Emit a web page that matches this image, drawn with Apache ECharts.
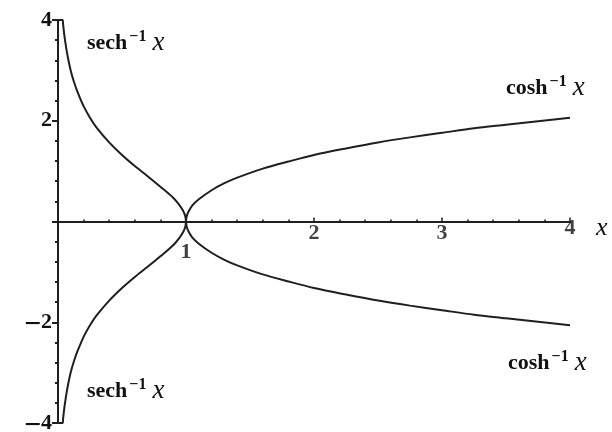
<!DOCTYPE html>
<html>
<head>
<meta charset="utf-8">
<script src="https://cdn.jsdelivr.net/npm/echarts@6/dist/echarts.min.js"></script>
<style>
  html, body { margin: 0; padding: 0; background: #fff; }
  #chart { width: 612px; height: 432px; }
</style>
</head>
<body>
<div id="chart"></div>
<script>
// Inverse hyperbolic functions: both branches of sech^-1 x on (0,1] and cosh^-1 x on [1,4]
const sechX    = [0, 0.036, 0.04, 0.05, 0.065, 0.08, 0.1, 0.125, 0.15, 0.2, 0.25, 0.3, 0.4, 0.5, 0.6, 0.7, 0.8, 0.9, 0.95, 0.98, 0.995, 1];
const sechUp   = [4.00, 4.00, 3.91, 3.69, 3.43, 3.22, 2.99, 2.77, 2.59, 2.29, 2.06, 1.87, 1.57, 1.32, 1.10, 0.90, 0.69, 0.47, 0.32, 0.20, 0.10, 0];
const sechDown = [-4.00, -4.00, -3.91, -3.69, -3.43, -3.22, -2.99, -2.77, -2.59, -2.29, -2.06, -1.87, -1.57, -1.32, -1.10, -0.90, -0.69, -0.47, -0.32, -0.20, -0.10, 0];

const coshX    = [1, 1.005, 1.02, 1.05, 1.1, 1.2, 1.3, 1.4, 1.6, 1.8, 2.0, 2.25, 2.5, 2.75, 3.0, 3.25, 3.5, 3.75, 4.0];
const coshUp   = [0, 0.10, 0.20, 0.32, 0.44, 0.62, 0.76, 0.87, 1.05, 1.19, 1.32, 1.45, 1.57, 1.67, 1.76, 1.85, 1.92, 1.99, 2.06];
const coshDown = [0, -0.10, -0.20, -0.32, -0.44, -0.62, -0.76, -0.87, -1.05, -1.19, -1.32, -1.45, -1.57, -1.67, -1.76, -1.85, -1.92, -1.99, -2.06];

const xTicks = [1, 2, 3, 4];
const yTicks = [-4, -2, 2, 4];

const serif = '"Liberation Serif", "DejaVu Serif", serif';
const ink = '#1f1f1f';
const textInk = '#111';

function pairs(xs, ys) { return xs.map((x, i) => [x, ys[i]]); }

function curve(name, xs, ys) {
  return {
    name: name,
    type: 'line',
    data: pairs(xs, ys),
    smooth: 0.3,
    showSymbol: false,
    lineStyle: { color: ink, width: 2 },
    silent: true,
    z: 3
  };
}

// x tick numbers sit on the zero line, so they are placed through the axes as labelled points
const xLabelSeries = {
  type: 'scatter',
  symbolSize: 0,
  silent: true,
  data: xTicks.map(v => ({
    value: [v, 0],
    label: { offset: v === 1 ? [0, 31] : (v === 4 ? [0, 7] : [0, 12]) }
  })),
  label: {
    show: true,
    position: 'inside',
    formatter: p => String(p.value[0]),
    fontFamily: serif,
    fontSize: 22,
    fontWeight: 'bold',
    color: textInk
  },
  z: 5
};

function fnLabel(base, x, y) {
  return {
    type: 'text',
    left: x,
    top: y,
    style: {
      text: '{b|' + base + '}{s|−1}{i|x}',
      rich: {
        b: { fontFamily: serif, fontSize: 22, fontWeight: 'bold', fill: textInk },
        s: { fontFamily: serif, fontSize: 16, fontWeight: 'bold', fill: textInk, verticalAlign: 'top', padding: [0, 6, 12, 2] },
        i: { fontFamily: serif, fontSize: 27, fontStyle: 'italic', fill: textInk }
      }
    }
  };
}

const chart = echarts.init(document.getElementById('chart'), null, { renderer: 'canvas' });

chart.setOption({
  animation: false,
  backgroundColor: '#fff',
  grid: { left: 58, right: 42, top: 20, bottom: 9, containLabel: false, outerBoundsMode: 'none' },
  xAxis: {
    type: 'value',
    min: 0,
    max: 4,
    interval: 1,
    axisLine: { onZero: true, lineStyle: { color: ink, width: 2 } },
    axisTick: { show: true, length: 4, inside: true, lineStyle: { color: ink, width: 1.5 } },
    minorTick: { show: true, splitNumber: 5, length: 2, lineStyle: { color: ink, width: 1.5 } },
    axisLabel: { show: false },
    splitLine: { show: false }
  },
  yAxis: {
    type: 'value',
    min: -4,
    max: 4,
    interval: 2,
    axisLine: { onZero: true, lineStyle: { color: ink, width: 2 } },
    axisTick: { show: true, length: 6, inside: false, lineStyle: { color: ink, width: 2 } },
    minorTick: { show: true, splitNumber: 5, length: 3, lineStyle: { color: ink, width: 2 } },
    axisLabel: {
      margin: 6,
      fontFamily: serif,
      fontSize: 22,
      fontWeight: 'bold',
      color: textInk,
      formatter: v => (yTicks.indexOf(v) >= 0 ? (v < 0 ? '{m|−}' + Math.abs(v) : String(v)) : ''),
      rich: {
        m: { fontFamily: serif, fontSize: 30, fontWeight: 'bold', color: textInk, padding: [6, 0, 0, 0] }
      }
    },
    splitLine: { show: false }
  },
  series: [
    curve('sech⁻¹x upper', sechX, sechUp),
    curve('sech⁻¹x lower', sechX, sechDown),
    curve('cosh⁻¹x upper', coshX, coshUp),
    curve('cosh⁻¹x lower', coshX, coshDown),
    xLabelSeries
  ],
  graphic: [
    fnLabel('sech', 87, 29),
    fnLabel('sech', 87, 377),
    fnLabel('cosh', 506, 74),
    fnLabel('cosh', 508, 349),
    {
      type: 'text',
      left: 596,
      top: 215,
      style: { text: 'x', fontFamily: serif, fontSize: 26, fontStyle: 'italic', fill: textInk }
    }
  ]
});
</script>
</body>
</html>
